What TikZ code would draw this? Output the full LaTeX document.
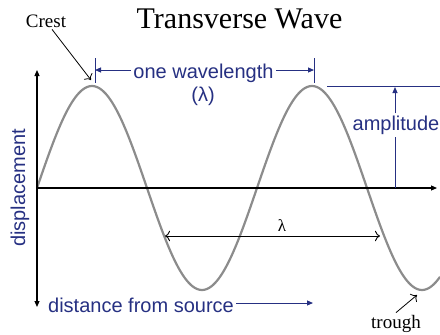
\documentclass[tikz,border=0pt]{standalone}
\usepackage{fontspec}
\setmainfont{Liberation Serif}
\newfontfamily\labelfont{Liberation Sans}
\usetikzlibrary{arrows.meta,calc}
\definecolor{navy}{RGB}{38,48,130}
\definecolor{wavegray}{RGB}{140,140,140}
\begin{document}
\begin{tikzpicture}[x=1pt,y=-1pt,
  bluetxt/.style={text=navy, font=\labelfont\fontsize{20}{22}\selectfont, inner sep=2pt},
  seriftxt/.style={font=\fontsize{19}{21}\selectfont, inner sep=2pt},
  axisline/.style={line width=1.1pt, black},
  axistip/.style={axisline, -{Triangle[length=6pt,width=5pt]}},
  axisboth/.style={axisline, {Triangle[length=6pt,width=5pt]}-{Triangle[length=6pt,width=5pt]}},
  blueline/.style={line width=1pt, navy},
  bluetip/.style={blueline, -{Triangle[length=6pt,width=5pt]}},
  pointer/.style={line width=0.8pt, black, -{To[length=5pt]}},
  lambdaarrow/.style={line width=0.9pt, black, {To[length=5pt]}-{To[length=5pt]}},
  wave/.style={line width=2.2pt, wavegray}]
\useasboundingbox (0,0) rectangle (440,335);

% title
\node[font=\fontsize{30}{34}\selectfont, anchor=base, inner sep=0] (title) at (239.5,28) {Transverse Wave};

% wave
\draw[wave] plot[domain=0:403, samples=200, smooth] ({37+\x}, {188-102*sin(1.63636*\x)});

% axes
\coordinate (O) at (37,188);
\coordinate (ytop) at (37,70);
\coordinate (ybot) at (37,307);
\coordinate (xend) at (437,188);
\draw[axisboth] (ytop) -- (ybot);
\draw[axistip] (O) -- (xend);

% one wavelength
\coordinate (tL) at (95,70);
\coordinate (tR) at (314,70);
\draw[blueline] (95,58) -- (95,83);
\draw[blueline] (314,58) -- (314,83);
\node[bluetxt, anchor=base] (owl) at (203.5,78) {one wavelength};
\draw[bluetip] (owl.west |- tL) -- (tL);
\draw[bluetip] (owl.east |- tR) -- (tR);
\node[bluetxt] (lam) at (203,96) {(λ)};

% amplitude
\draw[blueline] (327,86) -- (440,86);
\coordinate (ampbase) at (395,188);
\coordinate (amptop) at (395,87);
\node[bluetxt] (amp) at (396,125) {amplitude};
\draw[blueline] (ampbase) -- (ampbase |- amp.south);
\draw[bluetip] (amptop |- amp.north) -- (amptop);

% displacement
\node[bluetxt, rotate=90] (disp) at (20,188) {displacement};

% distance from source
\node[bluetxt, anchor=base] (dfs) at (141,312) {distance from source};
\coordinate (dfsend) at (313,303);
\draw[bluetip] (dfs.east |- dfsend) -- (dfsend);

% crest
\node[seriftxt, anchor=base] (crest) at (46,27) {Crest};
\coordinate (crtip) at (91,80);
\draw[pointer] (crest.-55) -- (crtip);

% trough
\node[seriftxt, anchor=base] (trough) at (396,328) {trough};
\coordinate (trtip) at (417,295);
\draw[pointer] (trough.north) -- (trtip);

% lambda
\coordinate (la) at (165,236);
\coordinate (lb) at (380,236);
\draw[lambdaarrow] (la) -- (lb);
\node[font=\fontsize{17}{19}\selectfont, anchor=base, inner sep=0] (lamlab) at (282,231) {λ};
\end{tikzpicture}
\end{document}
